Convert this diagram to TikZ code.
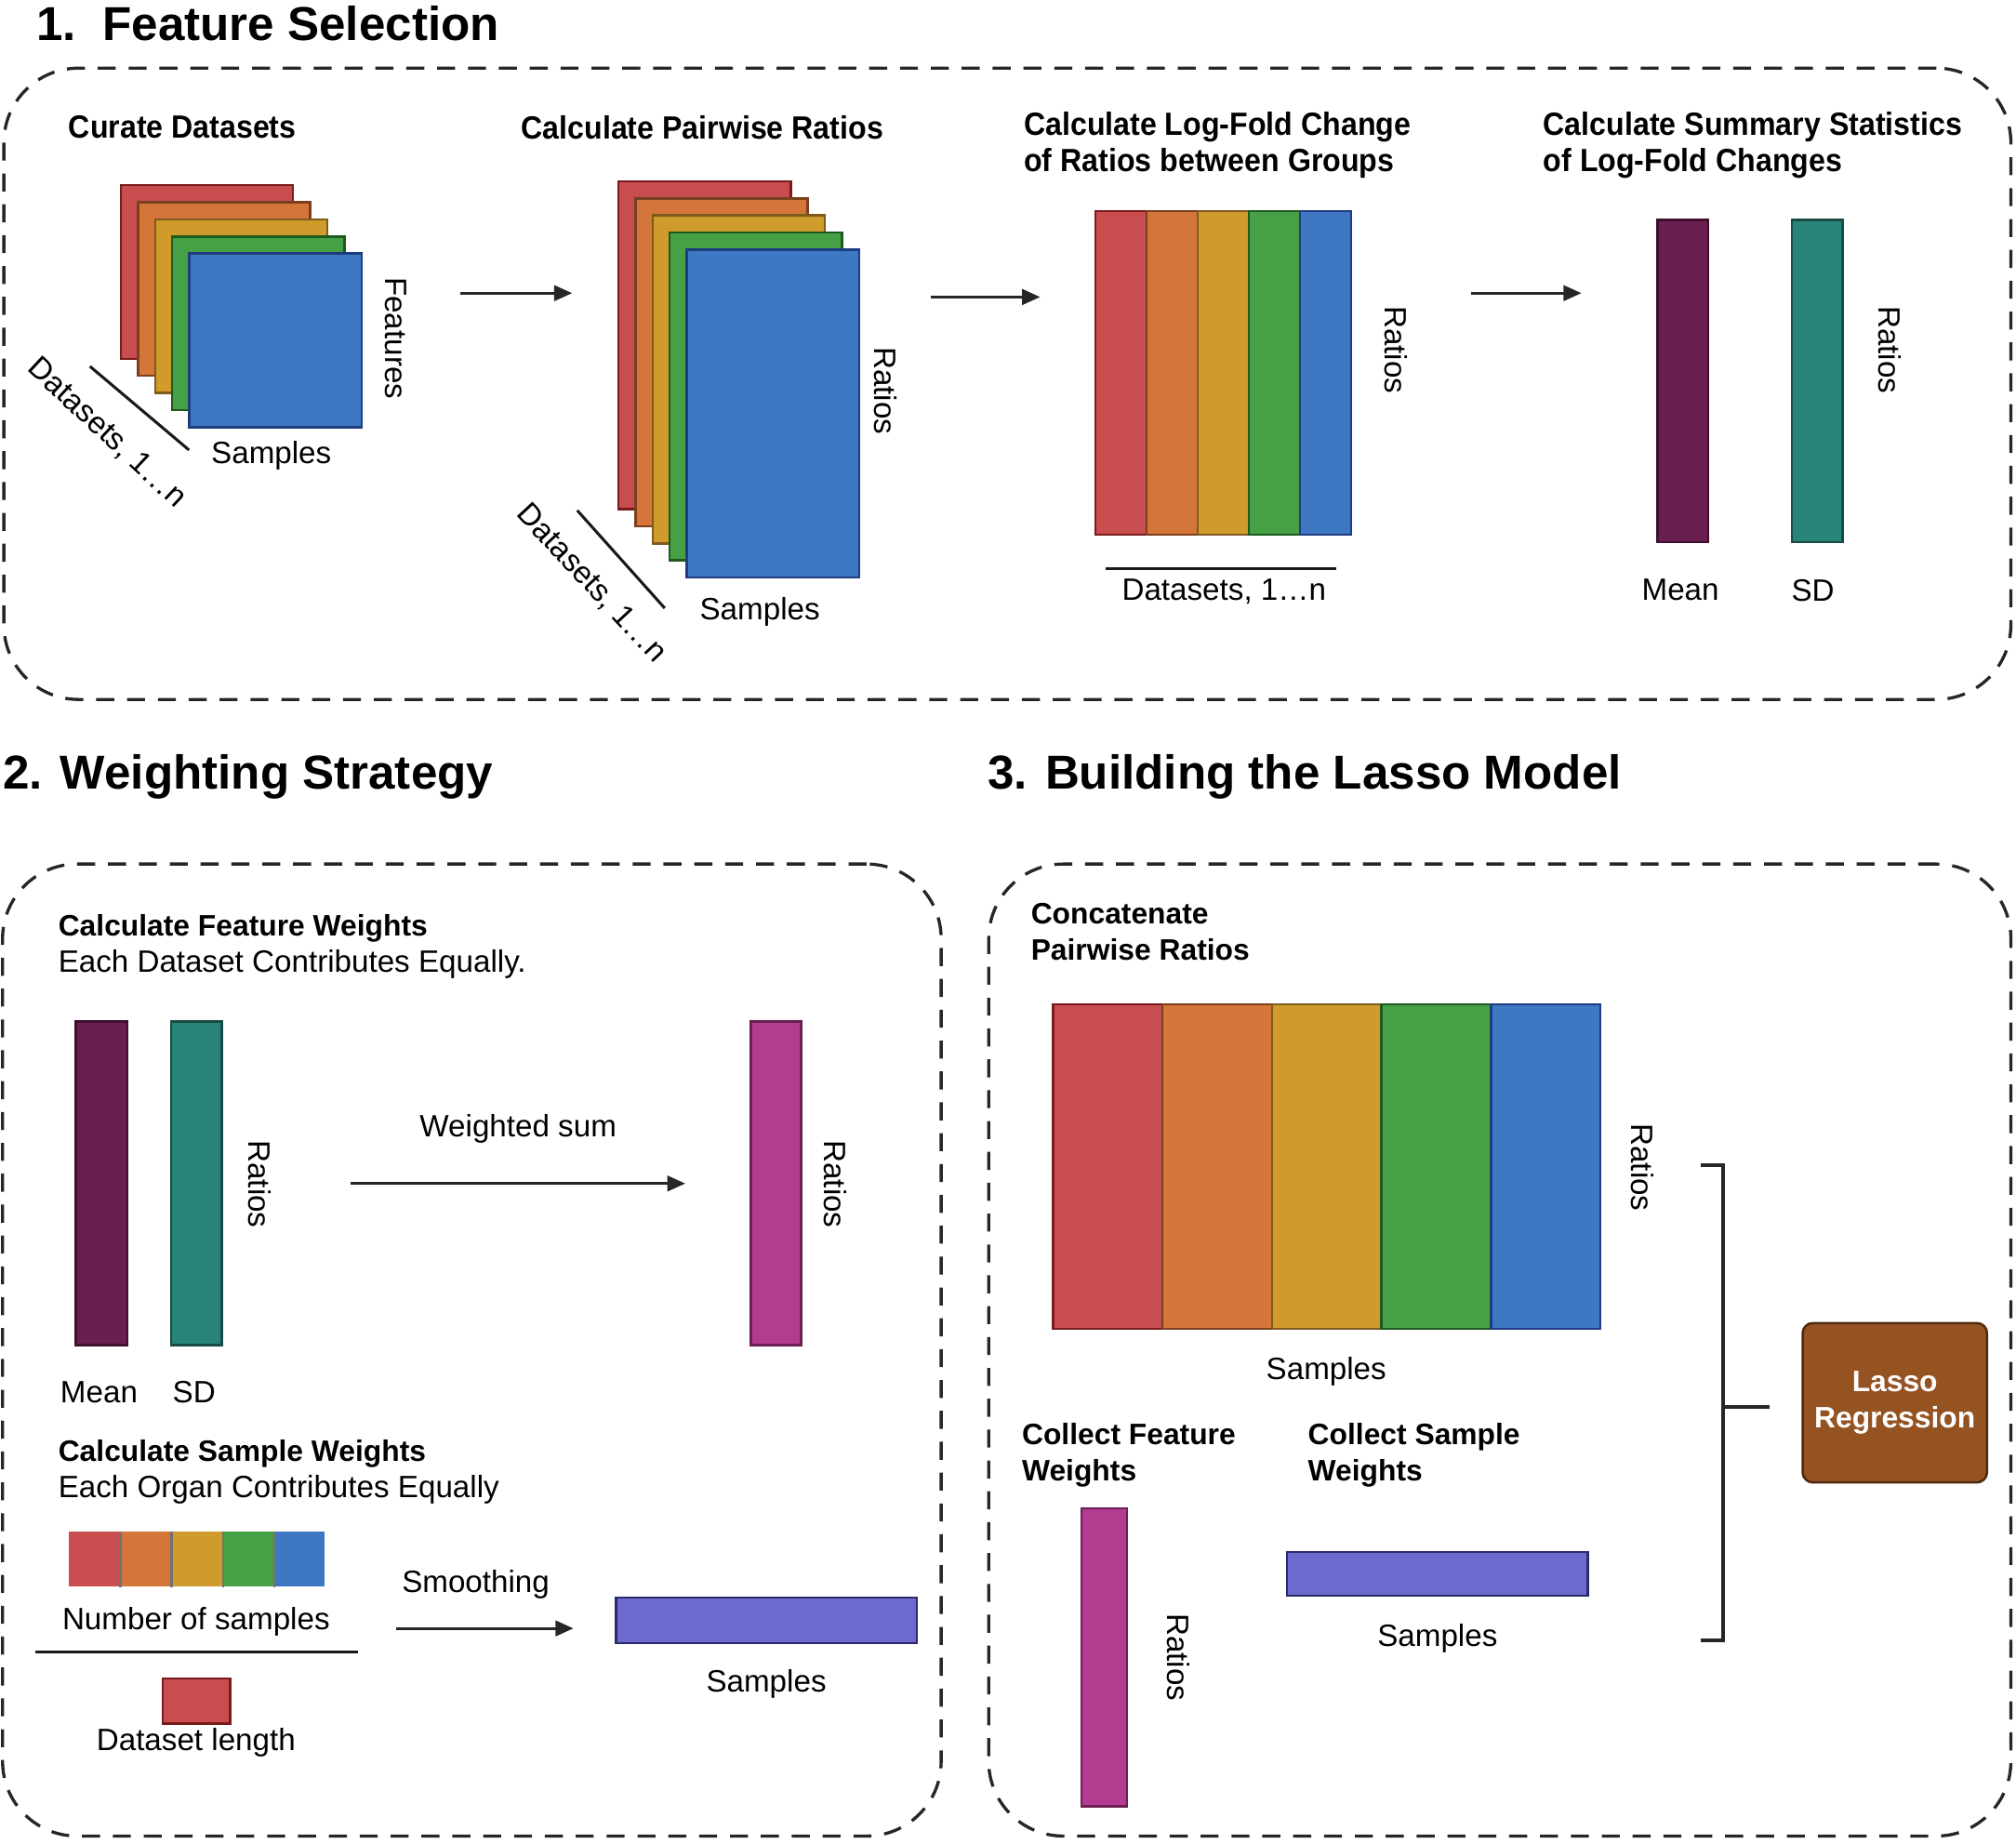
\documentclass[tikz,border=0pt]{standalone}
\usepackage{fontspec}
\setmainfont{Liberation Sans}
\newfontfamily\condfont[FakeStretch=0.93]{Liberation Sans}
\usetikzlibrary{fit,arrows.meta}
\definecolor{fred}{HTML}{C84D4E}\definecolor{dred}{HTML}{7A1B1B}
\definecolor{forange}{HTML}{D4763A}\definecolor{dorange}{HTML}{7A3F1E}
\definecolor{fyellow}{HTML}{CF9C2C}\definecolor{dyellow}{HTML}{7E5A1E}
\definecolor{fgreen}{HTML}{46A046}\definecolor{dgreen}{HTML}{1E5A1E}
\definecolor{fblue}{HTML}{3F78C2}\definecolor{dblue}{HTML}{1E3C80}
\definecolor{fmean}{HTML}{6A1F50}\definecolor{dmean}{HTML}{3F0F2D}
\definecolor{fsd}{HTML}{288479}\definecolor{dsd}{HTML}{1A4A45}
\definecolor{fmag}{HTML}{B33C91}\definecolor{dmag}{HTML}{6A1F55}
\definecolor{fpur}{HTML}{6C6ACE}\definecolor{dpur}{HTML}{2A2A6A}
\definecolor{fbrown}{HTML}{955322}\definecolor{dbrown}{HTML}{4F2A10}
\tikzset{
  lbl/.style={font=\fontsize{12}{14}\selectfont, inner sep=0pt},
  rlbl/.style={lbl, rotate=-90},
  head/.style={font=\condfont\bfseries\fontsize{12.5}{14}\selectfont, anchor=west, align=left, inner sep=0pt},
  bhead/.style={font=\bfseries\fontsize{11.5}{14.2}\selectfont, anchor=west, align=left, inner sep=0pt},
  title/.style={font=\bfseries\fontsize{18.5}{22}\selectfont, anchor=west, inner sep=0pt},
  panel/.style={draw=black!85, line width=1.2pt, dash pattern=on 7pt off 5pt, rounded corners=29pt, inner sep=0pt},
  bar/.style={inner sep=0pt, line width=0.9pt},
  arr/.style={-{Triangle[length=7pt,width=6pt]}, line width=1.1pt, draw=black!85},
  plain/.style={line width=1.1pt, draw=black!90},
}
\begin{document}
\begin{tikzpicture}[x=0.5pt,y=-0.5pt]
\useasboundingbox (0,0) rectangle (1568,1434);

% ---------- Section titles ----------
\node[title] (t1) at (28,18) {1.\ \ Feature Selection};
\node[title] (t2) at (2,604) {2. Weighting Strategy};
\node[title] (t3) at (768,604) {3. Building the Lasso Model};

% ---------- Panels ----------
\node[panel, fit={(3,53) (1564,544)}] (p1) {};
\node[panel, fit={(2,672) (732,1428)}] (p2) {};
\node[panel, fit={(769,672) (1564,1428)}] (p3) {};

% ---------- Panel 1 ----------
\node[head] (h1) at (53,99) {Curate Datasets};
\node[head] (h2) at (405,99) {Calculate Pairwise Ratios};
\node[head] (h3) at (796,113) {Calculate Log-Fold Change\\of Ratios between Groups};
\node[head] (h4) at (1200,113) {Calculate Summary Statistics\\of Log-Fold Changes};

\foreach \c [count=\i from 0] in {red,orange,yellow,green,blue} {
  \node[bar, fill=f\c, draw=d\c, fit={({94+13.3*\i},{144+13.3*\i}) ({228+13.3*\i},{279+13.3*\i})}] (sa\i) {};
}
\node[rlbl] (feat) at (308,263) {Features};
\coordinate (d1a) at (70,285); \coordinate (d1b) at (147,350);
\draw[plain] (d1a) -- (d1b);
\node[lbl, rotate=-43] (ds1) at (83,337) {Datasets, 1…n};
\node[lbl] (sm1) at (211,354) {Samples};

\coordinate (a1s) at (358,228); \coordinate (a1e) at (445,228);
\draw[arr] (a1s) -- (a1e);

\foreach \c [count=\i from 0] in {red,orange,yellow,green,blue} {
  \node[bar, fill=f\c, draw=d\c, fit={({481+13.3*\i},{141+13.3*\i}) ({615+13.3*\i},{396+13.3*\i})}] (sb\i) {};
}
\node[rlbl] (rat2) at (689,304) {Ratios};
\coordinate (d2a) at (449,397); \coordinate (d2b) at (517,473);
\draw[plain] (d2a) -- (d2b);
\node[lbl, rotate=-47] (ds2) at (460,454) {Datasets, 1…n};
\node[lbl] (sm2) at (591,476) {Samples};

\coordinate (a2s) at (724,231); \coordinate (a2e) at (809,231);
\draw[arr] (a2s) -- (a2e);

\foreach \c [count=\i from 0] in {red,orange,yellow,green,blue} {
  \node[bar, fill=f\c, draw=d\c, fit={({852+39.8*\i},164) ({891.8+39.8*\i},416)}] (lf\i) {};
}
\node[rlbl] (rat3) at (1086,272) {Ratios};
\coordinate (u3a) at (860,442); \coordinate (u3b) at (1039,442);
\draw[plain] (u3a) -- (u3b);
\node[lbl] (ds3) at (952,460) {Datasets, 1…n};

\coordinate (a3s) at (1144,228); \coordinate (a3e) at (1230,228);
\draw[arr] (a3s) -- (a3e);

\node[bar, fill=fmean, draw=dmean, fit={(1289,171) (1328.5,421.5)}] (mean1) {};
\node[bar, fill=fsd, draw=dsd, fit={(1393.5,171) (1433,421.5)}] (sd1) {};
\node[rlbl] (rat4) at (1470,272) {Ratios};
\node[lbl] (mn1) at (1307,459) {Mean};
\node[lbl] (sdl1) at (1410,459) {SD};

% ---------- Panel 2 ----------
\node[bhead] (fw) at (45,722) {Calculate Feature Weights};
\node[lbl, anchor=west] (fwd) at (45,750) {Each Dataset Contributes Equally.};
\node[bar, fill=fmean, draw=dmean, fit={(59,794.5) (99,1046)}] (mean2) {};
\node[bar, fill=fsd, draw=dsd, fit={(133,794.5) (172.5,1046)}] (sd2) {};
\node[rlbl] (rat5) at (202,921) {Ratios};
\coordinate (a4s) at (273,920.5); \coordinate (a4e) at (533,920.5);
\draw[arr] (a4s) -- (a4e);
\node[lbl] (wsum) at (403,878) {Weighted sum};
\node[bar, fill=fmag, draw=dmag, fit={(584,794.5) (623,1046)}] (mag2) {};
\node[rlbl] (rat6) at (650,921) {Ratios};
\node[lbl] (mn2) at (77,1083) {Mean};
\node[lbl] (sdl2) at (151,1083) {SD};

\node[bhead] (sw) at (45,1130.5) {Calculate Sample Weights};
\node[lbl, anchor=west] (swd) at (45,1158.5) {Each Organ Contributes Equally};
\foreach \c [count=\i from 0] in {red,orange,yellow,green,blue} {
  \node[inner sep=0pt, fill=f\c, fit={({53.5+39.8*\i},1191.5) ({93.3+39.8*\i},1234)}] (st\i) {};
}
\foreach \i in {0,1,2,3} {
  \draw[line width=0.8pt, draw=black!55] (st\i.north east) -- (st\i.south east);
}
\node[lbl] (nos) at (152.5,1261) {Number of samples};
\coordinate (fla) at (27.5,1285); \coordinate (flb) at (278.5,1285);
\draw[plain] (fla) -- (flb);
\node[bar, fill=fred, draw=dred, fit={(126.5,1305.5) (179,1340.5)}] (dlen) {};
\node[lbl] (dl) at (152.5,1355.5) {Dataset length};
\node[lbl] (smo) at (370,1232) {Smoothing};
\coordinate (a5s) at (308,1266.5); \coordinate (a5e) at (446,1266.5);
\draw[arr] (a5s) -- (a5e);
\node[bar, fill=fpur, draw=dpur, fit={(479,1242.5) (713,1278)}] (pur2) {};
\node[lbl] (sm5) at (596,1309.5) {Samples};

% ---------- Panel 3 ----------
\node[bhead] (cc) at (801.5,724.5) {Concatenate\\Pairwise Ratios};
\foreach \c [count=\i from 0] in {red,orange,yellow,green,blue} {
  \node[bar, fill=f\c, draw=d\c, fit={({819+85.14*\i},781) ({904.14+85.14*\i},1033.5)}] (cb\i) {};
}
\node[rlbl] (rat7) at (1277.5,908) {Ratios};
\node[lbl] (sm7) at (1031.5,1066.5) {Samples};
\node[bhead] (cfw) at (794.5,1132) {Collect Feature\\Weights};
\node[bhead] (csw) at (1017,1132) {Collect Sample\\Weights};
\node[bar, fill=fmag, draw=dmag, fit={(841,1173) (876.5,1405)}] (mag3) {};
\node[rlbl] (rat8) at (916.5,1289) {Ratios};
\node[bar, fill=fpur, draw=dpur, fit={(1001,1207) (1235,1241)}] (pur3) {};
\node[lbl] (sm8) at (1118,1274) {Samples};

\coordinate (bt) at (1322.5,906); \coordinate (bb) at (1322.5,1276);
\coordinate (bm) at (1340,1094); \coordinate (bme) at (1376,1094);
\draw[line width=1.4pt, draw=black!85] (bt) -- ++(17.5,0) |- (bb);
\draw[line width=1.4pt, draw=black!85] (bm) -- (bme);

\node[bar, fill=fbrown, draw=dbrown, rounded corners=4pt, fit={(1402,1029) (1545.5,1153)}] (lasso) {};
\node[font=\bfseries\fontsize{11.5}{14}\selectfont, text=white, align=center, inner sep=0pt] (lassot) at (lasso.center) {Lasso\\Regression};
\end{tikzpicture}
\end{document}
